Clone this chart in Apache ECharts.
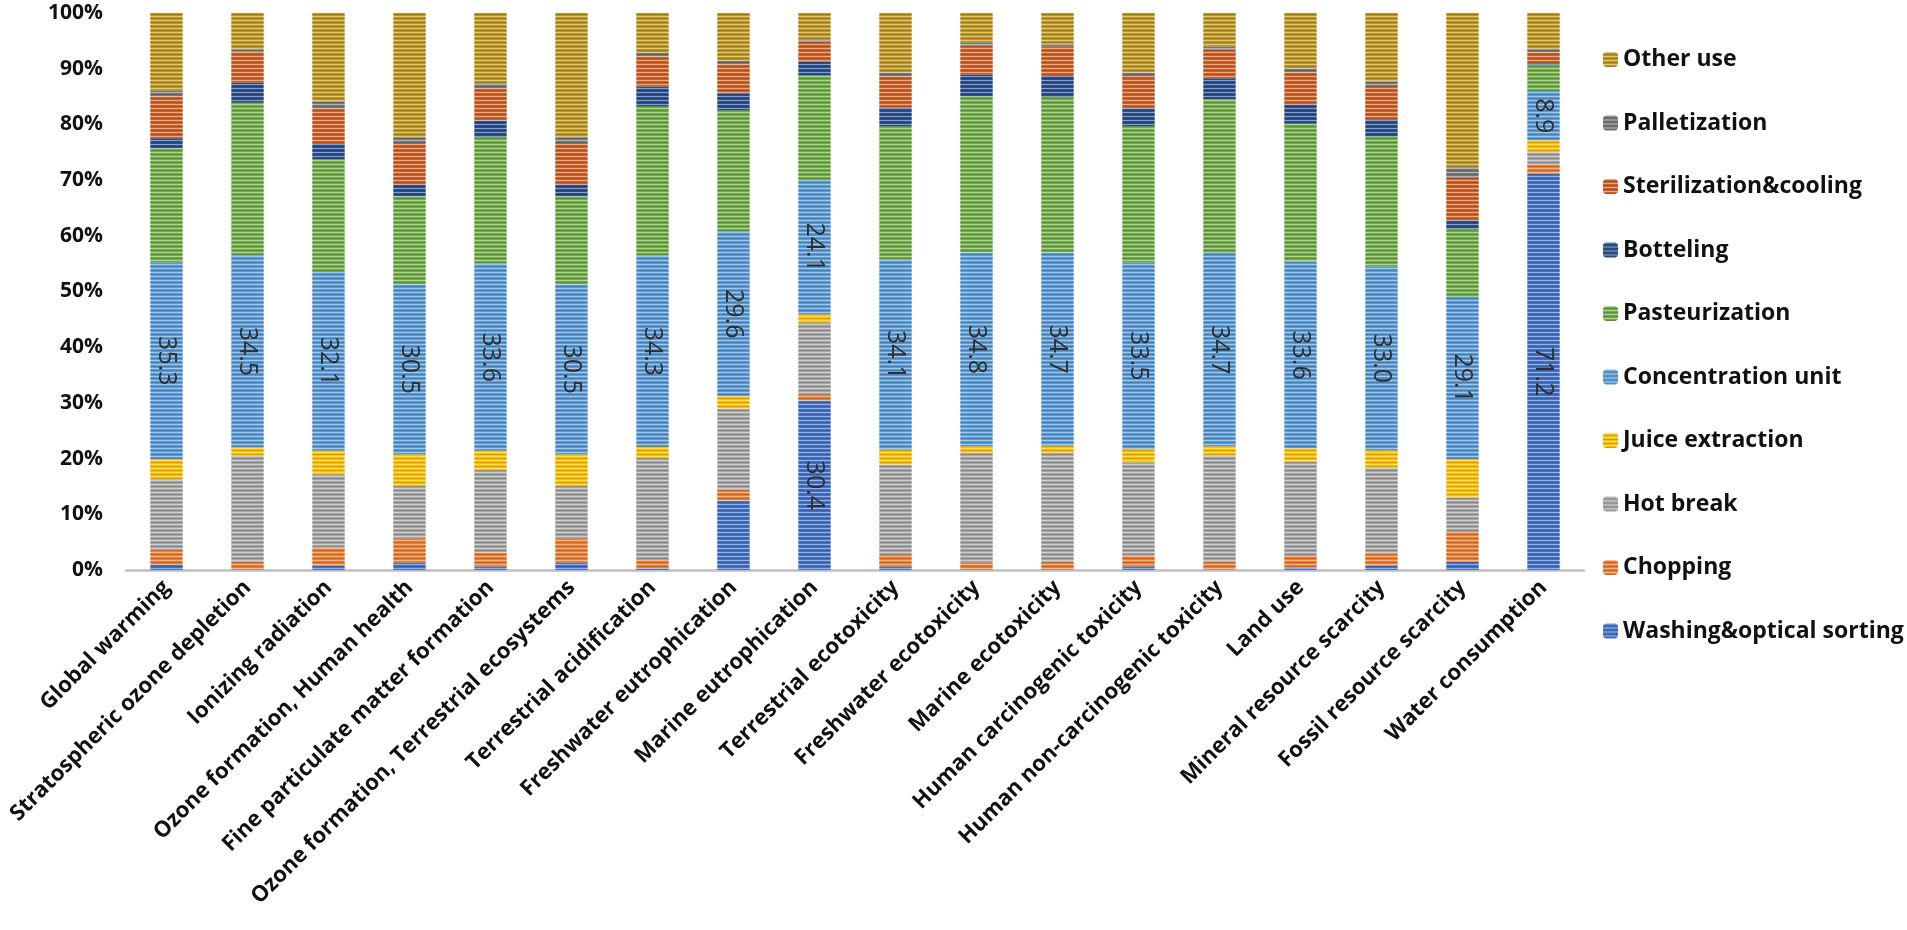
<!DOCTYPE html>
<html>
<head>
<meta charset="utf-8">
<title>Process contribution</title>
<script src="https://cdn.jsdelivr.net/npm/echarts@6/dist/echarts.min.js"></script>
<style>
  html, body { margin: 0; padding: 0; background: #fff; }
  #chart { width: 1907px; height: 930px; }
</style>
</head>
<body>
<div id="chart"></div>
<script>
var categories = ['Global warming', 'Stratospheric ozone depletion', 'Ionizing radiation',
    'Ozone formation, Human health', 'Fine particulate matter formation',
    'Ozone formation, Terrestrial ecosystems', 'Terrestrial acidification',
    'Freshwater eutrophication', 'Marine eutrophication', 'Terrestrial ecotoxicity',
    'Freshwater ecotoxicity', 'Marine ecotoxicity', 'Human carcinogenic toxicity',
    'Human non-carcinogenic toxicity', 'Land use', 'Mineral resource scarcity',
    'Fossil resource scarcity', 'Water consumption'];

// share of each process (%), bottom of the stack first
var washing = [0.9, 0.1, 0.8, 1.3, 0.6, 1.3, 0.3, 12.5, 30.4, 0.6, 0.1, 0.1, 0.6, 0.1, 0.4, 0.8, 1.5, 71.2];
var chopping = [2.7, 1.4, 3.2, 4.4, 2.5, 4.4, 1.5, 1.9, 1.0, 2.1, 1.2, 1.4, 2.0, 1.4, 2.1, 2.2, 5.3, 1.5];
var hotBreak = [12.7, 19.0, 13.2, 9.4, 14.9, 9.4, 18.3, 14.6, 13.0, 16.2, 19.7, 19.5, 16.7, 19.0, 17.0, 15.4, 6.2, 2.3];
var juiceExtraction = [3.6, 1.5, 4.2, 5.7, 3.4, 5.7, 2.0, 2.2, 1.5, 2.7, 1.2, 1.3, 2.4, 1.7, 2.3, 3.1, 6.9, 2.1];
var concentration = [35.3, 34.5, 32.1, 30.5, 33.6, 30.5, 34.3, 29.6, 24.1, 34.1, 34.8, 34.7, 33.5, 34.7, 33.6, 33.0, 29.1, 8.9];
var pasteurization = [20.5, 27.4, 20.2, 15.8, 22.7, 15.8, 26.9, 21.8, 18.8, 24.0, 28.0, 27.9, 24.5, 27.6, 24.7, 23.3, 12.2, 4.6];
var botteling = [1.8, 3.6, 2.8, 2.0, 3.0, 2.0, 3.5, 3.0, 2.5, 3.3, 3.9, 3.8, 3.2, 3.8, 3.4, 3.0, 1.6, 0.4];
var sterilization = [7.5, 5.6, 6.4, 7.4, 5.8, 7.4, 5.4, 5.1, 3.6, 5.6, 5.2, 5.3, 5.8, 5.1, 5.8, 5.9, 7.6, 1.9];
var palletization = [1.1, 0.4, 1.2, 1.2, 0.9, 1.2, 0.6, 0.7, 0.4, 0.7, 0.6, 0.5, 0.6, 0.6, 0.8, 1.0, 1.9, 0.6];
var otherUse = [13.9, 6.5, 15.9, 22.3, 12.6, 22.3, 7.2, 8.6, 4.7, 10.7, 5.3, 5.5, 10.7, 6.0, 9.9, 12.3, 27.7, 6.5];

// bars where the washing share is written on the bar
var washingLabelled = ['Marine eutrophication', 'Water consumption'];

var names = ['Washing&optical sorting', 'Chopping', 'Hot break', 'Juice extraction', 'Concentration unit',
    'Pasteurization', 'Botteling', 'Sterilization&cooling', 'Palletization', 'Other use'];
var values = [washing, chopping, hotBreak, juiceExtraction, concentration,
    pasteurization, botteling, sterilization, palletization, otherUse];
var colors = ['#4472C4', '#ED7D31', '#A5A5A5', '#FFC000', '#5B9BD5',
    '#70AD47', '#2B4F8E', '#CC6228', '#777777', '#BE9720'];

function fncMix(hex, target, amount) {
    var n = parseInt(hex.slice(1), 16);
    var r = (n >> 16) & 255, g = (n >> 8) & 255, b = n & 255;
    r = Math.round(r + (target - r) * amount);
    g = Math.round(g + (target - g) * amount);
    b = Math.round(b + (target - b) * amount);
    return 'rgb(' + r + ',' + g + ',' + b + ')';
}

// horizontal stripe texture like the office fill of the original
function fncStripe(hex) {
    var c = document.createElement('canvas');
    c.width = 4;
    c.height = 4;
    var ctx = c.getContext('2d');
    ctx.fillStyle = hex;
    ctx.fillRect(0, 0, 4, 4);
    ctx.fillStyle = fncMix(hex, 255, 0.45);
    ctx.fillRect(0, 0, 4, 1);
    ctx.fillStyle = fncMix(hex, 0, 0.18);
    ctx.fillRect(0, 2, 4, 1);
    return { image: c, repeat: 'repeat' };
}

var valueLabel = {
    show: true,
    position: 'inside',
    rotate: -90,
    color: '#2e2e2e',
    fontFamily: 'Open Sans',
    fontSize: 25,
    formatter: function (p) { return p.value.toFixed(1); }
};

var series = [];
for (var i = 0; i < names.length; i++) {
    var data = values[i];
    if (names[i] == 'Washing&optical sorting') {
        data = washing.map(function (v, k) {
            if (washingLabelled.indexOf(categories[k]) >= 0) return { value: v, label: valueLabel };
            return v;
        });
    }
    series.push({
        name: names[i],
        type: 'bar',
        stack: 'total',
        barWidth: '40%',
        data: data,
        itemStyle: { color: fncStripe(colors[i]) },
        label: names[i] == 'Concentration unit' ? valueLabel : { show: false },
        emphasis: { disabled: true }
    });
}

var chart = echarts.init(document.getElementById('chart'));
chart.setOption({
    animation: false,
    textStyle: { fontFamily: 'Open Sans' },
    grid: { left: 126, right: 323, top: 13, bottom: 360, containLabel: false },
    legend: {
        orient: 'vertical',
        left: 1603,
        top: 48,
        padding: 0,
        itemWidth: 15,
        itemHeight: 15,
        itemGap: 40.5,
        data: names.slice().reverse(),
        textStyle: { fontFamily: 'Open Sans', fontWeight: 'bold', fontSize: 23, lineHeight: 23, color: '#111' }
    },
    xAxis: {
        type: 'category',
        data: categories,
        axisLine: { lineStyle: { color: '#BFBFBF', width: 2.5 } },
        axisTick: { show: false },
        axisLabel: {
            interval: 0,
            rotate: 45,
            margin: 14,
            fontFamily: 'Open Sans',
            fontWeight: 'bold',
            fontSize: 22,
            color: '#111'
        }
    },
    yAxis: {
        type: 'value',
        min: 0,
        max: 100,
        interval: 10,
        splitLine: { show: false },
        axisLine: { show: false },
        axisTick: { show: false },
        axisLabel: {
            formatter: '{value}%',
            margin: 23,
            fontFamily: 'Open Sans',
            fontWeight: 'bold',
            fontSize: 21,
            color: '#111'
        }
    },
    series: series
});
</script>
</body>
</html>
